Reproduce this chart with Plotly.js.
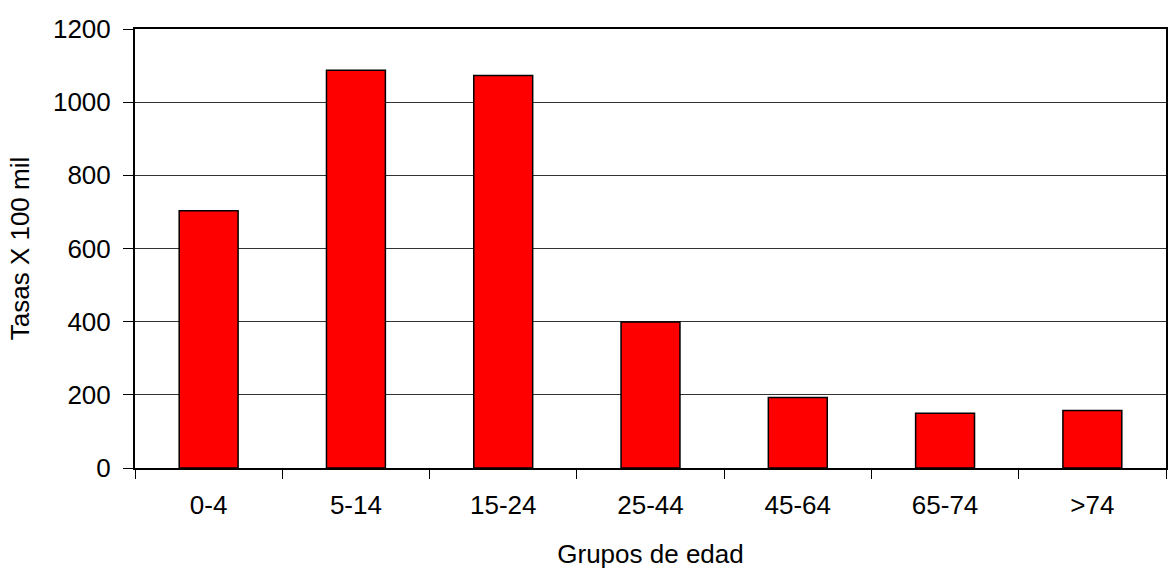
<!DOCTYPE html>
<html>
<head>
<meta charset="utf-8">
<script src="https://cdn.plot.ly/plotly-3.0.1.min.js"></script>
<style>
  html, body { margin: 0; padding: 0; background: #fff; }
  #chart { width: 1168px; height: 570px; }
</style>
</head>
<body>
<div id="chart"></div>
<script>
const categories = ["0-4", "5-14", "15-24", "25-44", "45-64", "65-74", ">74"];
const tasas = [703, 1087, 1073, 399, 193, 150, 157];
const yTicks = [0, 200, 400, 600, 800, 1000, 1200];

const trace = {
  type: "bar",
  x: categories,
  y: tasas,
  marker: { color: "#FF0000", line: { color: "#000000", width: 1.5 } },
  hoverinfo: "x+y"
};

const font = { family: "Liberation Sans, Arial, sans-serif", size: 26, color: "#000" };

const layout = {
  width: 1168,
  height: 570,
  margin: { l: 135, r: 2, t: 29, b: 102 },
  paper_bgcolor: "#fff",
  plot_bgcolor: "#fff",
  font: font,
  showlegend: false,
  bargap: 0.6,
  xaxis: {
    type: "category",
    tickson: "boundaries",
    ticks: "outside",
    ticklen: 9,
    tickwidth: 1,
    tickcolor: "#000",
    showline: true,
    mirror: true,
    linecolor: "#000",
    linewidth: 2,
    showgrid: false,
    zeroline: false,
    tickfont: font,
    ticklabelstandoff: 13,
    title: { text: "Grupos de edad", font: font, standoff: 26 }
  },
  yaxis: {
    range: [0, 1200],
    tickvals: yTicks,
    ticktext: yTicks.map(String),
    ticks: "outside",
    ticklen: 10,
    tickwidth: 1,
    tickcolor: "#000",
    showline: true,
    mirror: true,
    linecolor: "#000",
    linewidth: 2,
    showgrid: true,
    gridcolor: "#333",
    gridwidth: 1,
    zeroline: false,
    tickfont: font,
    ticklabelstandoff: 7,
    title: { text: "Tasas X 100 mil", font: font, standoff: 16 }
  }
};

Plotly.newPlot("chart", [trace], layout, { displayModeBar: false, staticPlot: true });
</script>
</body>
</html>
